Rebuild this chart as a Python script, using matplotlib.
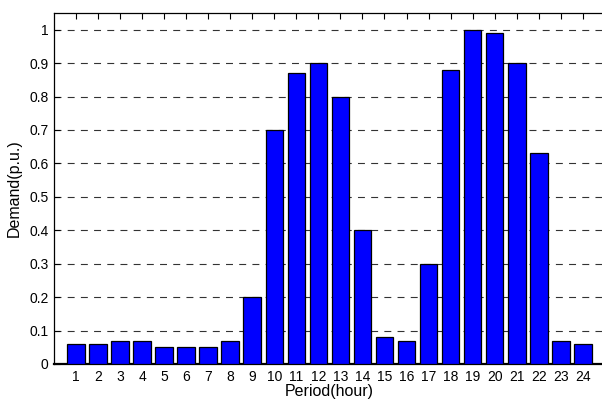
import numpy as np
import matplotlib
matplotlib.use('Agg')
import matplotlib.pyplot as plt

plt.rc('font', size=10, family=['Liberation Sans', 'DejaVu Sans'])
plt.rc('lines', scale_dashes=False)

periods = list(range(1, 25))
demand = [0.06, 0.06, 0.07, 0.07, 0.05, 0.05, 0.05, 0.07, 0.20, 0.70,
          0.87, 0.90, 0.80, 0.40, 0.08, 0.07, 0.30, 0.88, 1.00, 0.99,
          0.90, 0.63, 0.07, 0.06]
yticks = [0, 0.1, 0.2, 0.3, 0.4, 0.5, 0.6, 0.7, 0.8, 0.9, 1]
ytick_labels = ['0', '0.1', '0.2', '0.3', '0.4', '0.5', '0.6', '0.7', '0.8', '0.9', '1']

fig = plt.figure(figsize=(6.02, 4.03), dpi=100)
ax = fig.add_axes([0.0897, 0.0968, 0.915, 0.871])

ax.bar(periods, demand, width=0.8, color='#0000ff', edgecolor='black',
       linewidth=0.9, zorder=3)

ax.set_xlim(0, 25)
ax.set_ylim(0, 1.05)
ax.set_xticks(periods)
ax.set_yticks(yticks)
ax.set_yticklabels(ytick_labels)

ax.set_axisbelow(True)
ax.grid(axis='y', color='0.2', linewidth=0.8, linestyle=(0, (5, 4.5)))

ax.tick_params(axis='x', direction='in', top=True, bottom=True, length=4,
               width=0.8, pad=4, labelsize=10)
ax.tick_params(axis='y', direction='in', length=4, width=0.8, pad=4,
               labelsize=10)
ax.spines['bottom'].set_linewidth(1.6)
ax.spines['left'].set_linewidth(0.9)
ax.spines['top'].set_linewidth(0.9)
ax.spines['right'].set_visible(False)

ax.set_xlabel('Period(hour)', fontsize=11.5, labelpad=0)
ax.set_ylabel('Demand(p.u.)', fontsize=11.5, labelpad=5)

plt.savefig('out.png', dpi=100)
